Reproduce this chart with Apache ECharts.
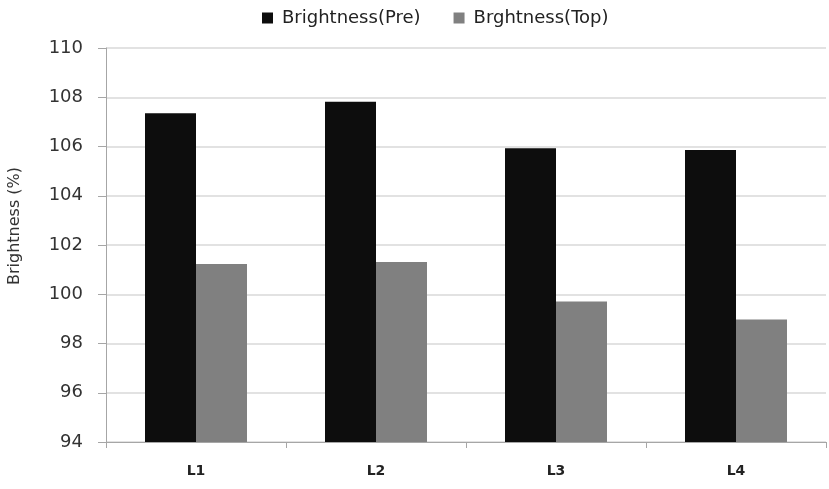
<!DOCTYPE html>
<html><head><meta charset="utf-8">
<script src="https://cdn.jsdelivr.net/npm/echarts@6/dist/echarts.min.js"></script>
<style>html,body{margin:0;padding:0;background:#fff}#c{width:829px;height:489px}</style>
</head><body><div id="c"></div>
<script>
const categories = ['L1', 'L2', 'L3', 'L4'];
const seriesNames = ['Brightness(Pre)', 'Brghtness(Top)'];
const preValues = [107.35, 107.82, 105.93, 105.86];
const topValues = [101.23, 101.31, 99.71, 98.97];
const yTicks = { min: 94, max: 110, interval: 2 };

const chart = echarts.init(document.getElementById('c'));
chart.setOption({
  animation: false,
  backgroundColor: '#fff',
  legend: {
    top: 4, left: 257, itemWidth: 11, itemHeight: 11, itemGap: 33,
    icon: 'rect',
    textStyle: { fontFamily: 'DejaVu Sans', fontSize: 18, color: '#222', padding: [0, 0, 0, 4] },
    data: seriesNames
  },
  grid: { left: 106, right: 3, top: 48, bottom: 47, containLabel: false, outerBoundsMode: 'none' },
  xAxis: {
    type: 'category', data: categories,
    axisLine: { lineStyle: { color: '#a6a6a6', width: 1 } },
    axisTick: { show: true, length: 6, lineStyle: { color: '#a6a6a6' } },
    axisLabel: { margin: 22, fontFamily: 'DejaVu Sans', fontWeight: 'bold', fontSize: 14, color: '#222' }
  },
  yAxis: {
    type: 'value', min: yTicks.min, max: yTicks.max, interval: yTicks.interval,
    name: 'Brightness (%)', nameLocation: 'middle', nameGap: 83,
    nameTextStyle: { fontFamily: 'DejaVu Sans', fontSize: 16, color: '#333', padding: [0, 0, 0, 38] },
    axisLine: { show: true, lineStyle: { color: '#a6a6a6', width: 1 } },
    axisTick: { show: true, length: 8, lineStyle: { color: '#a6a6a6' } },
    axisLabel: { margin: 23, fontFamily: 'DejaVu Sans', fontSize: 18, color: '#333' },
    splitLine: { lineStyle: { color: '#d9d9d9', width: 1.5 } }
  },
  series: [
    { name: seriesNames[0], type: 'bar', data: preValues, barWidth: 51, barGap: '0%',
      itemStyle: { color: '#0d0d0d' } },
    { name: seriesNames[1], type: 'bar', data: topValues, barWidth: 51, barGap: '0%',
      itemStyle: { color: '#808080' } }
  ]
});
</script></body></html>
